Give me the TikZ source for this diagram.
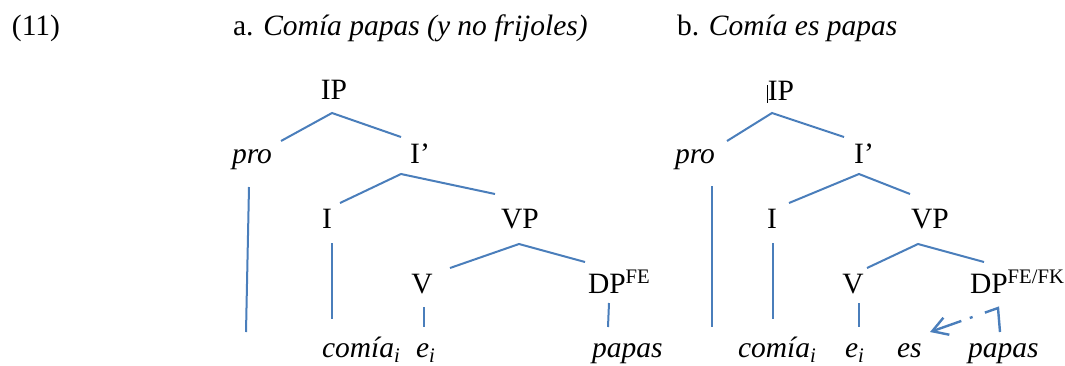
\documentclass[tikz,border=0pt]{standalone}
\usepackage{fontspec}
\setmainfont{Liberation Serif}
\usetikzlibrary{arrows.meta}
\definecolor{treeblue}{HTML}{4A7EBB}
\begin{document}
\begin{tikzpicture}[x=1pt,y=-1pt,
  lbl/.style={inner sep=0pt,outer sep=0pt,font=\fontsize{29.5}{34}\selectfont},
  lblc/.style={lbl,anchor=base},
  lblw/.style={lbl,anchor=base west},
  branch/.style={draw=treeblue,line width=2pt},
]
\useasboundingbox (0,0) rectangle (1065,365);
% headers
\node[lblw] (ex) at (12,35) {(11)};
\node[lblw] (ha) at (233,35) {a. \textit{Comía papas (y no frijoles)}};
\node[lblw] (hb) at (677,35) {b. \textit{Comía es papas}};
% ---- tree a
\node[lblc] (aIP) at (334,99) {IP};
\node[lblc] (apro) at (252,163) {\textit{pro}};
\node[lblc] (aIb) at (420,163) {I’};
\node[lblc] (aI) at (327,228) {I};
\node[lblc] (aVP) at (520,228) {VP};
\node[lblc] (aV) at (422,293) {V};
\node[lblw] (aDP) at (588,293) {DP\textsuperscript{FE}};
\node[lblw] (acomia) at (322,357) {\textit{comía}\textsubscript{\textit{i}}};
\node[lblw] (ae) at (416,357) {\textit{e}\textsubscript{\textit{i}}};
\node[lblw] (apapas) at (592,357) {\textit{papas}};
\coordinate (a1) at (332,113); \coordinate (a1l) at (281,141); \coordinate (a1r) at (401,137);
\coordinate (a2) at (401,174); \coordinate (a2l) at (340,203); \coordinate (a2r) at (495,194);
\coordinate (a3) at (519,244); \coordinate (a3l) at (450,268); \coordinate (a3r) at (585,262);
\coordinate (apt) at (249,187); \coordinate (apb) at (246,332);
\coordinate (ait) at (332,243); \coordinate (aib) at (332,319);
\coordinate (avt) at (424,307); \coordinate (avb) at (424,327);
\coordinate (adt) at (609,303); \coordinate (adb) at (608,327);
\draw[branch] (a1l) -- (a1) -- (a1r);
\draw[branch] (a2l) -- (a2) -- (a2r);
\draw[branch] (a3l) -- (a3) -- (a3r);
\draw[branch] (apt) -- (apb);
\draw[branch] (ait) -- (aib);
\draw[branch] (avt) -- (avb);
\draw[branch] (adt) -- (adb);
% ---- tree b
\node[lblc] (bIP) at (781,100) {IP};
\draw[black,line width=0.8pt] (767.5,85) -- (767.5,103);
\node[lblc] (bpro) at (695,163) {\textit{pro}};
\node[lblc] (bIb) at (864,163) {I’};
\node[lblc] (bI) at (772,228) {I};
\node[lblc] (bVP) at (930,228) {VP};
\node[lblc] (bV) at (853,293) {V};
\node[lblw] (bDP) at (970,293) {DP\textsuperscript{FE/FK}};
\node[lblw] (bcomia) at (738,357) {\textit{comía}\textsubscript{\textit{i}}};
\node[lblw] (be) at (845,357) {\textit{e}\textsubscript{\textit{i}}};
\node[lblw] (bes) at (897,357) {\textit{es}};
\node[lblw] (bpapas) at (968,357) {\textit{papas}};
\coordinate (b1) at (772,113); \coordinate (b1l) at (727,141); \coordinate (b1r) at (844,137);
\coordinate (b2) at (859,174); \coordinate (b2l) at (789,203); \coordinate (b2r) at (910,194);
\coordinate (b3) at (918,244); \coordinate (b3l) at (867,268); \coordinate (b3r) at (984,262);
\coordinate (bpt) at (712,186); \coordinate (bpb) at (712,327);
\coordinate (bit) at (773,243); \coordinate (bib) at (773,319);
\coordinate (bvt) at (859,303); \coordinate (bvb) at (859,327);
\coordinate (mvs) at (1000,332); \coordinate (mvc) at (998,308); \coordinate (mvt) at (930,332);
\draw[branch] (b1l) -- (b1) -- (b1r);
\draw[branch] (b2l) -- (b2) -- (b2r);
\draw[branch] (b3l) -- (b3) -- (b3r);
\draw[branch] (bpt) -- (bpb);
\draw[branch] (bit) -- (bib);
\draw[branch] (bvt) -- (bvb);
\draw[branch,line width=2.4pt,dash pattern=on 38pt off 13pt on 3pt off 9pt on 30pt,
  -{Straight Barb[length=15pt,width=18pt,line width=2.4pt]}] (mvs) -- (mvc) -- (mvt);
\end{tikzpicture}
\end{document}
